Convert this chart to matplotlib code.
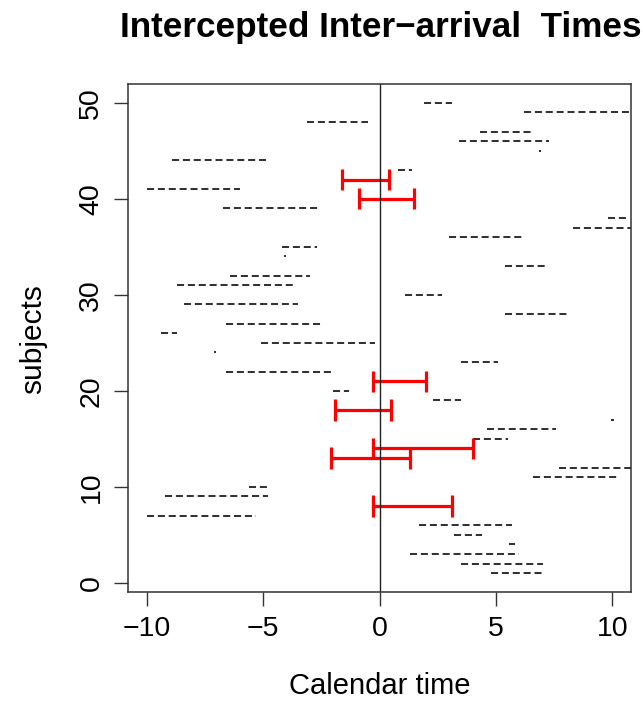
import matplotlib
matplotlib.use("Agg")
import matplotlib.pyplot as plt

# ---- data ----
subjects = [1, 2, 3, 4, 5, 6, 7, 9, 10, 11, 12, 15, 16, 17, 19, 20, 22, 23, 24, 25,
            26, 27, 28, 29, 30, 31, 32, 33, 34, 35, 36, 37, 38, 39, 41, 43, 44, 45,
            46, 47, 48, 49, 50]
seg_start = [4.8, 3.5, 1.3, 5.55, 3.2, 1.7, -10.0, -9.2, -5.6, 6.6, 7.7, 4.0, 4.6, 9.95,
             2.3, -2.0, -6.6, 3.5, -7.1, -5.1, -9.4, -6.6, 5.4, -8.4, 1.1, -8.7, -6.4,
             5.4, -4.1, -4.2, 3.0, 8.3, 9.8, -6.7, -10.0, 0.8, -8.9, 6.85, 3.4, 4.3,
             -3.1, 6.2, 1.9]
seg_end = [7.0, 7.0, 6.0, 5.8, 4.4, 5.7, -5.3, -4.8, -4.8, 10.3, 10.9, 5.5, 7.6, 10.05,
           3.5, -1.3, -2.1, 5.1, -7.0, -0.2, -8.7, -2.5, 8.1, -3.5, 2.7, -3.7, -3.0,
           7.1, -4.0, -2.7, 6.1, 11.0, 10.6, -2.6, -6.0, 1.4, -4.8, 6.95, 7.3, 6.5,
           -0.5, 11.0, 3.1]

red_subjects = [8, 13, 14, 18, 21, 40, 42]
red_start = [-0.3, -2.1, -0.3, -1.9, -0.3, -0.9, -1.6]
red_end = [3.1, 1.3, 4.0, 0.5, 2.0, 1.5, 0.4]

x_ticks = [-10, -5, 0, 5, 10]
y_ticks = [0, 10, 20, 30, 40, 50]
title = "Intercepted Inter\u2212arrival  Times"
xlabel = "Calendar time"
ylabel = "subjects"

# ---- figure ----
W, H = 643, 702
plt.rcParams['font.family'] = ['Liberation Sans', 'DejaVu Sans']
fig = plt.figure(figsize=(W / 100, H / 100), dpi=100)
ax = fig.add_axes([128 / W, 1 - 592 / H, (631 - 128) / W, (592 - 84) / H])

for y, a, b in zip(subjects, seg_start, seg_end):
    ax.plot([a, b], [y, y], color='#333333', lw=1.45,
            linestyle=(0, (3.5, 1.9)), solid_capstyle='butt', dash_capstyle='butt')

cap = 1.1
ax.hlines(red_subjects, red_start, red_end, colors='#ff0000', lw=2.3)
ax.vlines(red_start, [s - cap for s in red_subjects], [s + cap for s in red_subjects],
          colors='#ff0000', lw=2.3)
ax.vlines(red_end, [s - cap for s in red_subjects], [s + cap for s in red_subjects],
          colors='#ff0000', lw=2.3)

ax.axvline(0, color='#222222', lw=1.0)

ax.set_xlim(-10.8, 10.8)
ax.set_ylim(-0.96, 51.96)
ax.set_xticks(x_ticks)
ax.set_xticklabels([str(t).replace('-', '\u2212') for t in x_ticks])
ax.set_yticks(y_ticks)
ax.set_yticklabels([str(t) for t in y_ticks], rotation=90, va='center')
ax.tick_params(length=10, width=1.0, labelsize=20.5, pad=7, color='#333333')
for sp in ax.spines.values():
    sp.set_linewidth(1.1)
    sp.set_color('#333333')

fig.text(379.5 / W, 1 - 686 / H, xlabel, ha='center', va='center', fontsize=21)
fig.text(33 / W, 1 - 339 / H, ylabel, ha='center', va='center', rotation=90, fontsize=21.5)
fig.text(381 / W, 1 - 27 / H, title, ha='center', va='center', fontsize=25.3,
         fontweight='bold')

fig.savefig("out.png", dpi=100)
